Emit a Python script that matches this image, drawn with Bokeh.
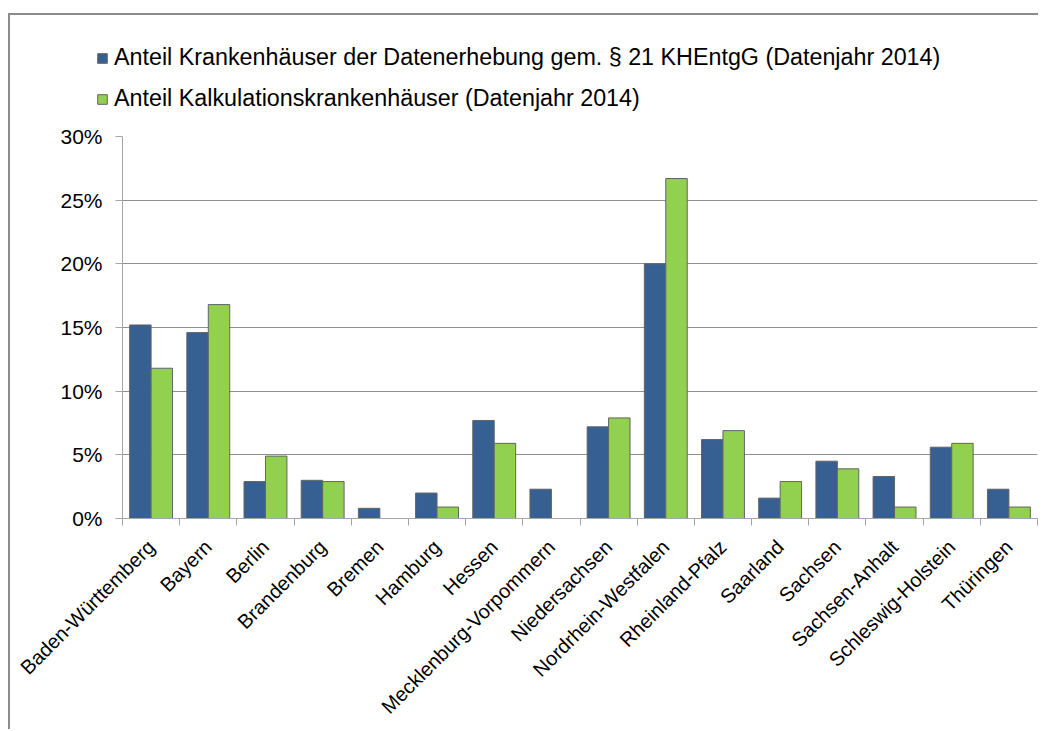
from bokeh.plotting import figure
from bokeh.layouts import column
from bokeh.models import (Range1d, FixedTicker, NumeralTickFormatter, Legend,
                          LegendItem, ColumnDataSource)
from bokeh.transform import dodge
from bokeh.embed import file_html
from bokeh.resources import INLINE

states = ["Baden-Württemberg", "Bayern", "Berlin", "Brandenburg", "Bremen",
          "Hamburg", "Hessen", "Mecklenburg-Vorpommern", "Niedersachsen",
          "Nordrhein-Westfalen", "Rheinland-Pfalz", "Saarland", "Sachsen",
          "Sachsen-Anhalt", "Schleswig-Holstein", "Thüringen"]
# percent values
share_21 = [15.2, 14.6, 2.9, 3.0, 0.8, 2.0, 7.7, 2.3, 7.2, 20.0, 6.2, 1.6, 4.5, 3.3, 5.6, 2.3]
share_calc = [11.8, 16.8, 4.9, 2.9, 0.0, 0.9, 5.9, 0.0, 7.9, 26.7, 6.9, 2.9, 3.9, 0.9, 5.9, 0.9]
y_ticks = [0, 0.05, 0.10, 0.15, 0.20, 0.25, 0.30]
legend_labels = ["Anteil Krankenhäuser der Datenerhebung gem. § 21 KHEntgG (Datenjahr 2014)",
                 "Anteil Kalkulationskrankenhäuser (Datenjahr 2014)"]

BLUE = "#366092"
GREEN = "#92D050"
EDGE = "#636363"
GRID = "#8f8f8f"
AXIS = "#a6a6a6"
FONT = "Liberation Sans"

n = len(states)
src = ColumnDataSource(dict(
    x=list(range(n)),
    a=[v / 100 for v in share_21],
    b=[v / 100 for v in share_calc],
))

# ---- legend strip (top); its proxy bars lie below the visible range ----
top = figure(width=1028, height=106, output_backend="svg", toolbar_location=None,
             tools="", x_range=Range1d(-0.5, n - 0.5), y_range=Range1d(1, 2),
             x_axis_location=None, y_axis_location=None,
             min_border_left=86, min_border_top=29, min_border_right=0,
             min_border_bottom=0)
top.frame_align = False
top.outline_line_color = None
top.grid.visible = False
l1 = top.vbar(x="x", top="a", width=0.3, source=src,
              fill_color=BLUE, line_color=EDGE, line_width=1)
l2 = top.vbar(x="x", top="b", width=0.3, source=src,
              fill_color=GREEN, line_color=EDGE, line_width=1)
legend = Legend(items=[LegendItem(label=legend_labels[0], renderers=[l1]),
                       LegendItem(label=legend_labels[1], renderers=[l2])],
                location="top_left", orientation="vertical",
                glyph_width=12, glyph_height=12, label_standoff=6,
                spacing=14, padding=0, margin=0,
                border_line_color=None, background_fill_alpha=0,
                label_text_font=FONT, label_text_font_size="23.3px",
                label_text_color="#000000")
top.add_layout(legend, "center")

# ---- chart ----
p = figure(width=1028, height=608, output_backend="svg", toolbar_location=None,
           tools="", x_range=Range1d(-0.5, n - 0.5), y_range=Range1d(0, 0.30),
           min_border_left=112, min_border_right=1, min_border_top=15,
           min_border_bottom=211)
p.frame_align = False
p.outline_line_color = None
p.background_fill_color = "white"
p.border_fill_color = "white"

bw = 0.375
p.vbar(x=dodge("x", -bw / 2), top="a", width=bw, source=src,
       fill_color=BLUE, line_color=EDGE, line_width=1)
p.vbar(x=dodge("x", bw / 2), top="b", width=bw, source=src,
       fill_color=GREEN, line_color=EDGE, line_width=1)

p.xgrid.grid_line_color = None
p.ygrid.grid_line_color = GRID
p.ygrid.grid_line_width = 1

p.yaxis.ticker = FixedTicker(ticks=y_ticks)
p.yaxis.formatter = NumeralTickFormatter(format="0%")
p.yaxis.axis_line_color = AXIS
p.yaxis.major_tick_line_color = AXIS
p.yaxis.major_tick_out = 7
p.yaxis.major_tick_in = 0
p.yaxis.minor_tick_line_color = None
p.yaxis.major_label_standoff = 13
p.yaxis.major_label_text_font = FONT
p.yaxis.major_label_text_font_size = "21px"
p.yaxis.major_label_text_color = "#000000"

p.xaxis.ticker = FixedTicker(ticks=list(range(n)),
                             minor_ticks=[i - 0.5 for i in range(n + 1)])
p.xaxis.major_label_overrides = {i: s for i, s in enumerate(states)}
p.xaxis.major_label_orientation = 0.785398
p.xaxis.major_tick_line_color = None
p.xaxis.major_tick_out = 0
p.xaxis.major_tick_in = 0
p.xaxis.minor_tick_line_color = AXIS
p.xaxis.minor_tick_out = 7
p.xaxis.minor_tick_in = 0
p.xaxis.axis_line_color = AXIS
p.xaxis.major_label_standoff = 18
p.xaxis.major_label_text_font = FONT
p.xaxis.major_label_text_font_size = "20px"
p.xaxis.major_label_text_color = "#000000"

layout = column(top, p, spacing=0,
                styles={"position": "relative", "top": "13px", "left": "8px",
                        "border-top": "2px solid #8c8c8c",
                        "border-left": "2px solid #8c8c8c"})

open("out.html", "w").write(file_html(layout, INLINE))
